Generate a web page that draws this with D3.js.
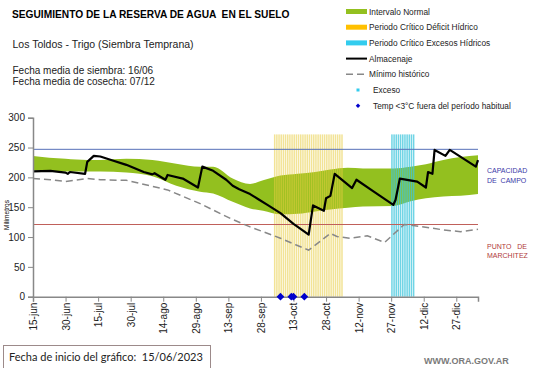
<!DOCTYPE html>
<html>
<head>
<meta charset="utf-8">
<script src="https://cdn.jsdelivr.net/npm/d3@7"></script>
<style>
  body { margin: 0; background: #fff; }
  svg { font-family: 'Liberation Sans', Arial, sans-serif; display: block; }
</style>
</head>
<body>
<div id="chart"></div>
<script>
const startDate = new Date(2023, 5, 15);
const endDay = 205;

// green band (intervalo normal), days since 15/06
const bandDays = [0, 15, 25, 31, 43, 55, 66, 77, 83, 92, 100, 106, 114, 122, 130, 137, 145, 152, 166, 174, 181, 189, 197, 205];
const bandUpper = [236, 231, 229, 229, 231, 229, 223, 218, 218, 198, 189, 195, 203, 206, 209, 213, 216, 215, 215, 218, 222, 229, 234, 237];
const bandLower = [212, 210, 210, 210, 208, 202, 186, 176, 173, 159, 148, 144, 138, 139, 143, 146, 149, 151, 152, 160, 165, 168, 169, 172];

// almacenaje
const storageDays = [0, 8, 15, 16, 17, 24, 25, 28, 31, 36, 43, 51, 55, 56, 61, 62, 69, 76, 78, 83, 89, 92, 95, 100, 104, 108, 114, 120, 127, 129, 134, 135, 137, 139, 147, 149, 157, 166, 167, 169, 177, 181, 182, 184, 185, 190, 192, 204, 205];
const storageValues = [210, 211, 208, 206, 209, 206, 226, 236, 235, 229, 221, 209, 205, 207, 196, 204, 198, 183, 218, 211, 196, 186, 180, 172, 163, 154, 140, 122, 104, 153, 144, 165, 169, 206, 182, 196, 176, 154, 162, 198, 193, 183, 209, 206, 246, 236, 246, 218, 229];

// minimo historico
const minDays = [0, 8, 15, 25, 31, 43, 49, 62, 77, 91, 100, 106, 114, 121, 127, 137, 140, 146, 154, 162, 171, 178, 189, 197, 205];
const minValues = [198, 196, 193, 198, 196, 195, 190, 179, 156, 131, 117, 109, 98, 87, 78, 106, 101, 98, 102, 91, 121, 118, 112, 109, 113];

// periodos criticos (days since 15/06) and their bar height
const deficitPeriod = [111, 142];
const excessPeriod = [165, 175];
const periodTop = 272;

// temp < 3 C fuera del periodo habitual
const frostDays = [114, 119, 120, 125];

const fieldCapacity = 247;
const wiltingPoint = 121;

const yTicks = [0, 50, 100, 150, 200, 250, 300];
const months = ['ene', 'feb', 'mar', 'abr', 'may', 'jun', 'jul', 'ago', 'sep', 'oct', 'nov', 'dic'];

const legendItems = [
  { label: 'Intervalo Normal', type: 'rect', color: '#93c01f' },
  { label: 'Periodo Crítico Déficit Hídrico', type: 'rect', color: '#ffc000' },
  { label: 'Periodo Crítico Excesos Hídricos', type: 'rect', color: '#33ccee' },
  { label: 'Almacenaje', type: 'line', color: '#000' },
  { label: 'Mínimo histórico', type: 'dash', color: '#888' },
  { label: 'Exceso', type: 'dot', color: '#33ccee' },
  { label: 'Temp <3°C fuera del período habitual', type: 'diamond', color: '#0000cc' }
];

const width = 541, height = 368;
const toDate = d => d3.timeDay.offset(startDate, d);

const x = d3.scaleTime()
  .domain([startDate, toDate(endDay)])
  .range([33, 478]);
const y = d3.scaleLinear()
  .domain([0, 300])
  .range([296.7, 117.7]);

const svg = d3.select('#chart')
  .append('svg')
  .attr('width', width)
  .attr('height', height);

// green band
const band = bandDays.map((d, i) => ({ d, hi: bandUpper[i], lo: bandLower[i] }));
svg.append('path')
  .datum(band)
  .attr('fill', '#93c01f')
  .attr('d', d3.area()
    .curve(d3.curveMonotoneX)
    .x(p => x(toDate(p.d)))
    .y0(p => y(p.lo))
    .y1(p => y(p.hi)));

// striped critical periods
function drawPeriod(period, color, opacity) {
  const days = d3.timeDay.range(toDate(period[0]), toDate(period[1] + 1));
  svg.append('g')
    .selectAll('rect')
    .data(days)
    .join('rect')
    .attr('x', d => x(d))
    .attr('width', 1.5)
    .attr('y', y(periodTop))
    .attr('height', y(0) - y(periodTop))
    .attr('fill', color)
    .attr('opacity', opacity);
}
drawPeriod(deficitPeriod, '#e8cc40', 0.55);
drawPeriod(excessPeriod, '#3fc6dc', 0.75);

// reference lines
svg.append('line')
  .attr('x1', x.range()[0]).attr('x2', x.range()[1])
  .attr('y1', y(fieldCapacity)).attr('y2', y(fieldCapacity))
  .attr('stroke', '#5670b8').attr('stroke-width', 1);
svg.append('line')
  .attr('x1', x.range()[0]).attr('x2', x.range()[1])
  .attr('y1', y(wiltingPoint)).attr('y2', y(wiltingPoint))
  .attr('stroke', '#c0605a').attr('stroke-width', 1.2);

// minimo historico
svg.append('path')
  .datum(minDays.map((d, i) => [d, minValues[i]]))
  .attr('fill', 'none')
  .attr('stroke', '#888')
  .attr('stroke-width', 1.5)
  .attr('stroke-dasharray', '7,4')
  .attr('d', d3.line().x(p => x(toDate(p[0]))).y(p => y(p[1])));

// almacenaje
svg.append('path')
  .datum(storageDays.map((d, i) => [d, storageValues[i]]))
  .attr('fill', 'none')
  .attr('stroke', '#000')
  .attr('stroke-width', 2.2)
  .attr('stroke-linejoin', 'round')
  .attr('d', d3.line().x(p => x(toDate(p[0]))).y(p => y(p[1])));

// axes
const yAxis = svg.append('g')
  .attr('transform', `translate(${x.range()[0]},0)`)
  .call(d3.axisLeft(y).tickValues(yTicks).tickSize(5).tickPadding(3));
yAxis.select('.domain').attr('stroke', '#888').attr('stroke-width', 1.5);
yAxis.selectAll('.tick line').attr('stroke', '#888');
yAxis.selectAll('text').attr('font-size', 10).attr('font-family', 'Liberation Sans, Arial').attr('fill', '#222');

const xTicks = d3.range(0, endDay, 15).map(toDate);
const xAxis = svg.append('g')
  .attr('transform', `translate(0,${y(0)})`)
  .call(d3.axisBottom(x).tickValues(xTicks).tickSize(5)
    .tickFormat(d => `${d.getDate()}-${months[d.getMonth()]}`));
xAxis.select('.domain').attr('stroke', '#888').attr('stroke-width', 1.5);
xAxis.selectAll('.tick line').attr('stroke', '#888');
xAxis.selectAll('text')
  .attr('font-size', 10)
  .attr('font-family', 'Liberation Sans, Arial')
  .attr('fill', '#222')
  .attr('transform', 'rotate(-90)')
  .attr('text-anchor', 'end')
  .attr('x', -6)
  .attr('y', 0)
  .attr('dy', '0.35em');

// frost markers
const diamond = d3.symbol().type(d3.symbolSquare).size(30);
svg.append('g')
  .selectAll('path')
  .data(frostDays)
  .join('path')
  .attr('d', diamond)
  .attr('fill', '#0000cc')
  .attr('transform', d => `translate(${x(toDate(d))},${y(0)}) rotate(45)`);

svg.append('text')
  .attr('transform', `translate(9,215) rotate(-90)`)
  .attr('text-anchor', 'middle')
  .attr('font-size', 6.5)
  .text('Milímetros');

// titles
svg.append('text').attr('x', 12).attr('y', 17.5)
  .attr('font-size', 10.2).attr('font-weight', 'bold')
  .text('SEGUIMIENTO DE LA RESERVA DE AGUA  EN EL SUELO')
  .style('white-space', 'pre');
svg.append('text').attr('x', 12.5).attr('y', 47.5)
  .attr('font-size', 10.5).attr('fill', '#222')
  .text('Los Toldos - Trigo (Siembra Temprana)');
svg.append('text').attr('x', 12.5).attr('y', 73.8)
  .attr('font-size', 10).attr('fill', '#222')
  .text('Fecha media de siembra: 16/06');
svg.append('text').attr('x', 12.5).attr('y', 84.5)
  .attr('font-size', 10).attr('fill', '#222')
  .text('Fecha media de cosecha: 07/12');

// legend
const legend = svg.append('g').attr('transform', 'translate(346,11.5)');
const item = legend.selectAll('g')
  .data(legendItems)
  .join('g')
  .attr('transform', (d, i) => `translate(0,${i * 15.7})`);
item.each(function (d) {
  const g = d3.select(this);
  if (d.type === 'rect') {
    g.append('rect').attr('x', 0).attr('y', -2.5).attr('width', 21).attr('height', 5).attr('fill', d.color);
  } else if (d.type === 'line') {
    g.append('line').attr('x1', 0).attr('x2', 21).attr('stroke', d.color).attr('stroke-width', 2);
  } else if (d.type === 'dash') {
    g.append('line').attr('x1', 0).attr('x2', 21).attr('stroke', d.color).attr('stroke-width', 1.5).attr('stroke-dasharray', '7,4');
  } else if (d.type === 'dot') {
    g.append('rect').attr('x', 10.5).attr('y', -1.5).attr('width', 3).attr('height', 3).attr('fill', d.color);
  } else {
    g.append('path').attr('d', d3.symbol().type(d3.symbolSquare).size(10)).attr('transform', 'translate(12,0) rotate(45)').attr('fill', d.color);
  }
});
item.append('text')
  .attr('x', d => d.type === 'dot' || d.type === 'diamond' ? 27 : 23)
  .attr('y', 3)
  .attr('font-size', 8.3)
  .attr('fill', '#222')
  .text(d => d.label);

// side labels
svg.append('text').attr('x', 487).attr('y', 173).attr('font-size', 7).attr('fill', '#3a3aa8').text('CAPACIDAD');
svg.append('text').attr('x', 487).attr('y', 182.5).attr('font-size', 7).attr('fill', '#3a3aa8').text('DE  CAMPO').style('white-space', 'pre');
svg.append('text').attr('x', 487).attr('y', 249).attr('font-size', 7).attr('fill', '#b03a3a').text('PUNTO   DE').style('white-space', 'pre');
svg.append('text').attr('x', 487).attr('y', 258).attr('font-size', 7).attr('fill', '#b03a3a').text('MARCHITEZ');

// footer
svg.append('rect').attr('x', 3.5).attr('y', 345.5).attr('width', 207).attr('height', 24)
  .attr('fill', '#fff').attr('stroke', '#9c8a8a');
svg.append('text').attr('x', 9).attr('y', 361)
  .attr('font-family', 'Lato, Carlito, sans-serif').attr('font-size', 11).attr('fill', '#222')
  .text('Fecha de inicio del gráfico:  15/06/2023').style('white-space', 'pre');
svg.append('text').attr('x', 424).attr('y', 364)
  .attr('font-size', 9).attr('font-weight', 'bold').attr('fill', '#7a7a7a')
  .text('WWW.ORA.GOV.AR');
</script>
</body>
</html>
